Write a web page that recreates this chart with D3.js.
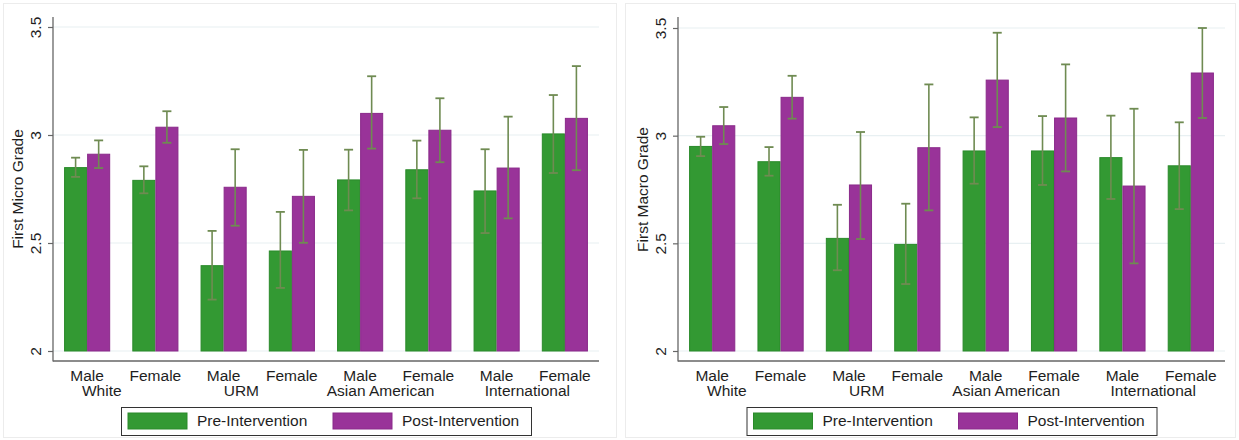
<!DOCTYPE html>
<html>
<head>
<meta charset="utf-8">
<script src="https://cdn.jsdelivr.net/npm/d3@7"></script>
<style>
  html, body { margin: 0; padding: 0; background: #fff; }
  svg { display: block; }
  text { font-family: "Liberation Sans", Arial, sans-serif; fill: #1e1e1e; }
</style>
</head>
<body>
<svg id="chart" width="1239" height="440"></svg>
<script>
// ---------------- DATA ----------------
const supergroups = ["White", "URM", "Asian American", "International"];
const genders = ["Male", "Female"];
const seriesNames = ["Pre-Intervention", "Post-Intervention"];
const yTicks = [2, 2.5, 3, 3.5];
const yTickLabels = ["2", "2.5", "3", "3.5"];

// First Micro Grade (order: White M, White F, URM M, URM F, AsAm M, AsAm F, Intl M, Intl F)
const microPre    = [2.849, 2.790, 2.395, 2.463, 2.792, 2.839, 2.741, 3.005];
const microPreLo  = [2.806, 2.730, 2.238, 2.292, 2.651, 2.707, 2.546, 2.824];
const microPreHi  = [2.895, 2.855, 2.556, 2.644, 2.932, 2.974, 2.934, 3.185];
const microPost   = [2.911, 3.036, 2.758, 2.716, 3.100, 3.022, 2.847, 3.077];
const microPostLo = [2.847, 2.964, 2.580, 2.501, 2.937, 2.874, 2.614, 2.837];
const microPostHi = [2.975, 3.110, 2.934, 2.931, 3.272, 3.170, 3.085, 3.319];

// First Macro Grade
const macroPre    = [2.950, 2.879, 2.523, 2.495, 2.929, 2.929, 2.898, 2.860];
const macroPreLo  = [2.905, 2.814, 2.375, 2.311, 2.777, 2.771, 2.706, 2.659];
const macroPreHi  = [2.995, 2.947, 2.679, 2.684, 3.085, 3.091, 3.093, 3.062];
const macroPost   = [3.046, 3.178, 2.771, 2.944, 3.258, 3.082, 2.766, 3.291];
const macroPostLo = [2.961, 3.079, 2.520, 2.653, 3.040, 2.834, 2.407, 3.082];
const macroPostHi = [3.133, 3.278, 3.017, 3.238, 3.478, 3.331, 3.125, 3.500];

// ---------------- STYLE ----------------
const fillColors = ["#339933", "#993399"];
const strokeColors = ["#2a8a2a", "#8a2a8a"];
const errColor = "#6f8b52";
const FS = 15.5;
const superOffsets = [0.215, 0.26, 0.30, 0.45];

const svg = d3.select("#chart");

function buildRows(pre, preLo, preHi, post, postLo, postHi) {
  const rows = [];
  supergroups.forEach((sg, i) => {
    genders.forEach((g, j) => {
      const k = i * genders.length + j;
      rows.push({
        key: sg + "|" + g, sg, g,
        vals: [
          { s: seriesNames[0], v: pre[k], lo: preLo[k], hi: preHi[k], si: 0 },
          { s: seriesNames[1], v: post[k], lo: postLo[k], hi: postHi[k], si: 1 }
        ]
      });
    });
  });
  return rows;
}

function drawPanel(cfg) {
  const g = svg.append("g");
  // panel frame
  g.append("rect")
    .attr("x", cfg.frame[0] + 0.5).attr("y", 3.5)
    .attr("width", cfg.frame[1] - cfg.frame[0]).attr("height", 434)
    .attr("fill", "none").attr("stroke", "#ececec").attr("stroke-width", 1);

  const rows = cfg.rows;
  const x = d3.scaleBand().domain(rows.map(d => d.key)).range([cfg.x0, cfg.x1]).padding(0);
  const xs = d3.scaleBand().domain(seriesNames).range([0, x.bandwidth()])
    .paddingInner(0).paddingOuter(0.48);
  const y = d3.scaleLinear().domain([2, 3.5]).range([351, cfg.yTop]);

  // gridlines
  g.append("g").selectAll("line").data(yTicks).join("line")
    .attr("x1", cfg.x0).attr("x2", cfg.x1)
    .attr("y1", d => y(d)).attr("y2", d => y(d))
    .attr("stroke", "#e8f0f2").attr("stroke-width", 1.2);

  // y axis
  const yAxis = d3.axisLeft(y).tickValues(yTicks)
    .tickFormat((d, i) => yTickLabels[i]).tickSize(5).tickPadding(6);
  const ya = g.append("g").attr("transform", `translate(${cfg.x0},0)`).call(yAxis);
  ya.select(".domain").remove();
  ya.selectAll(".tick line").attr("stroke", "#666").attr("stroke-width", 1.2);
  ya.selectAll(".tick text")
    .attr("font-size", FS).attr("fill", "#1e1e1e")
    .attr("text-anchor", "middle")
    .attr("x", null).attr("dy", null)
    .attr("transform", "translate(-17,0) rotate(-90)")
    .attr("dy", "0.35em");
  ya.attr("font-family", null);
  g.append("line")
    .attr("x1", cfg.x0).attr("x2", cfg.x0).attr("y1", 17).attr("y2", 361.5)
    .attr("stroke", "#666").attr("stroke-width", 1.3);
  // x axis line
  g.append("line")
    .attr("x1", cfg.x0).attr("x2", cfg.x1).attr("y1", 361).attr("y2", 361)
    .attr("stroke", "#666").attr("stroke-width", 1.3);

  // axis title
  g.append("text")
    .attr("transform", `translate(${cfg.x0 - 35},${(y(2) + y(3.5)) / 2}) rotate(-90)`)
    .attr("text-anchor", "middle").attr("dy", "0.35em")
    .attr("font-size", FS).text(cfg.title);

  // bars
  const grp = g.append("g").selectAll("g").data(rows).join("g")
    .attr("transform", d => `translate(${x(d.key)},0)`);
  grp.selectAll("rect").data(d => d.vals).join("rect")
    .attr("x", d => xs(d.s) + 0.5)
    .attr("width", xs.bandwidth() - 1)
    .attr("y", d => y(d.v))
    .attr("height", d => y(2) - y(d.v))
    .attr("fill", d => fillColors[d.si])
    .attr("stroke", d => strokeColors[d.si])
    .attr("stroke-width", 1);

  // error bars
  const eb = grp.selectAll("g.eb").data(d => d.vals).join("g").attr("class", "eb");
  const cx = d => xs(d.s) + xs.bandwidth() / 2;
  eb.append("line")
    .attr("x1", cx).attr("x2", cx)
    .attr("y1", d => y(d.lo)).attr("y2", d => y(d.hi))
    .attr("stroke", errColor).attr("stroke-width", 1.6);
  eb.append("line")
    .attr("x1", d => cx(d) - 4.5).attr("x2", d => cx(d) + 4.5)
    .attr("y1", d => y(d.hi)).attr("y2", d => y(d.hi))
    .attr("stroke", errColor).attr("stroke-width", 1.8);
  eb.append("line")
    .attr("x1", d => cx(d) - 4.5).attr("x2", d => cx(d) + 4.5)
    .attr("y1", d => y(d.lo)).attr("y2", d => y(d.lo))
    .attr("stroke", errColor).attr("stroke-width", 1.8);

  // category labels
  g.append("g").selectAll("text").data(rows).join("text")
    .attr("x", d => x(d.key) + x.bandwidth() / 2)
    .attr("y", 380.5)
    .attr("text-anchor", "middle").attr("font-size", FS)
    .text(d => d.g);
  g.append("g").selectAll("text").data(supergroups).join("text")
    .attr("x", (d, i) => x(d + "|" + genders[0]) + x.bandwidth() / 2 + superOffsets[i] * x.bandwidth())
    .attr("y", 395.5)
    .attr("text-anchor", "middle").attr("font-size", FS)
    .text(d => d);

  // legend
  const lw = 410, lx = (cfg.x0 + cfg.x1) / 2 - lw / 2;
  const lg = g.append("g").attr("transform", `translate(${lx},407)`);
  lg.append("rect").attr("x", 0.5).attr("y", 0.5).attr("width", lw).attr("height", 28)
    .attr("fill", "#fff").attr("stroke", "#333").attr("stroke-width", 1);
  const items = lg.selectAll("g").data(seriesNames).join("g")
    .attr("transform", (d, i) => `translate(${7 + i * 205},6)`);
  items.append("rect").attr("width", 59).attr("height", 16)
    .attr("fill", (d, i) => fillColors[i]).attr("stroke", (d, i) => strokeColors[i]);
  items.append("text").attr("x", 69).attr("y", 8).attr("dy", "0.35em")
    .attr("font-size", FS).text(d => d);
}

drawPanel({
  rows: buildRows(microPre, microPreLo, microPreHi, microPost, microPostLo, microPostHi),
  x0: 53, x1: 599, yTop: 27, title: "First Micro Grade", frame: [3, 616]
});
drawPanel({
  rows: buildRows(macroPre, macroPreLo, macroPreHi, macroPost, macroPostLo, macroPostHi),
  x0: 678, x1: 1225, yTop: 28, title: "First Macro Grade", frame: [625, 1235]
});
</script>
</body>
</html>
